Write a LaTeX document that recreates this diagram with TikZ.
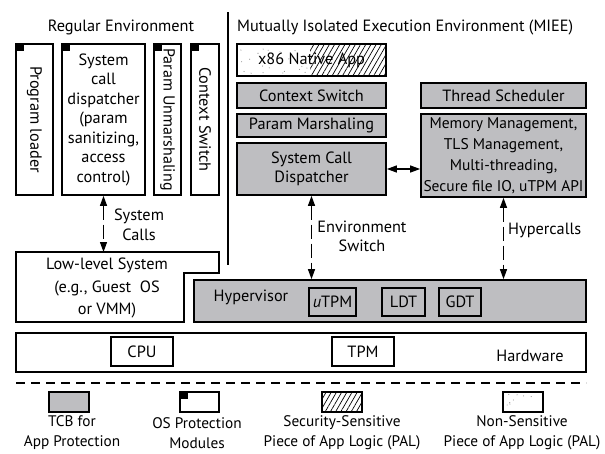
\documentclass[tikz,border=0pt]{standalone}
\usepackage{fontspec}
\setmainfont{PT Sans}
\usepackage{graphicx}
\usetikzlibrary{arrows.meta,patterns.meta}
\definecolor{tcbgray}{RGB}{190,190,193}

\begin{document}
\begin{tikzpicture}[x=1pt,y=-1pt]
	\tikzstyle{every node}=[font=\fontsize{16.3}{19.5}\selectfont, inner sep=0pt]
	\tikzstyle{box}=[draw, line width=1.7pt, align=center]
	\tikzstyle{tcb}=[box, fill=tcbgray]
	\tikzstyle{osmod}=[box, fill=white]
	\tikzstyle{hatched}=[pattern={Lines[angle=60,distance=4.5pt,line width=0.7pt]}]
	\tikzstyle{speck}=[fill=black!45]
	\tikzstyle{legtext}=[align=center, font=\fontsize{15.3}{20}\selectfont]
	\tikzstyle{link}=[line width=1.2pt, {Triangle[width=7pt,length=10pt]}-{Triangle[width=7pt,length=10pt]}]
	\tikzstyle{switch}=[link, dash pattern=on 14pt off 5pt]
	\useasboundingbox (0,0) rectangle (605,453);
	\pgfmathsetseed{7}

	\node (regtitle) at (121,27) {Regular Environment};
	\node[anchor=west] (mieetitle) at (237,27) {Mutually Isolated Execution Environment (MIEE)};
	\draw[line width=2pt] (228,12) -- (228,265);

	\node[osmod, minimum width=37, minimum height=151] (ploader) at (34.5,119.5) {\rotatebox{-90}{Program loader}};
	\node[osmod, minimum width=83, minimum height=151] (sysdisp) at (103.5,119.5) {System\\call\\dispatcher\\(param\\sanitizing,\\access\\control)};
	\node[osmod, minimum width=27, minimum height=151] (unmarsh) at (167.5,119.5) {\rotatebox{-90}{\fontsize{16}{19}\selectfont Param Unmarshaling}};
	\node[osmod, minimum width=28, minimum height=151] (ctxsw) at (205,119.5) {\rotatebox{-90}{Context Switch}};

	\foreach \i in {1,...,22}
		\fill[speck] ({239+69*rnd},{46+28*rnd}) circle (0.55);
	\fill[hatched] (310,44) rectangle (386,76);
	\node[box, minimum width=149, minimum height=32] (app) at (311.5,60) {x86 Native App};
	\node[tcb, minimum width=149, minimum height=25] (ctx) at (311.5,95.5) {Context Switch};
	\node[tcb, minimum width=165, minimum height=25] (sched) at (503.5,95.5) {Thread Scheduler};
	\node[tcb, minimum width=149, minimum height=23] (marsh) at (311.5,125.5) {Param Marshaling};
	\node[tcb, minimum width=149, minimum height=52] (disp) at (311.5,169) {System Call\\Dispatcher};
	\node[tcb, minimum width=165, minimum height=83, font=\fontsize{15.5}{21}\selectfont] (mgmt) at (503.5,155.5) {Memory Management,\\TLS Management,\\Multi-threading,\\Secure file IO, uTPM API};
	\draw[link] (disp.east) -- (mgmt.west |- disp.east);

	\draw[line width=1.7pt] (16,252) -- (219,252) -- (219,273) -- (184,273) -- (184,322) -- (16,322) -- cycle;
	\node[align=center, font=\fontsize{16.3}{22.5}\selectfont] (lowlevel) at (107,288) {Low-level System\\(e.g., Guest~ OS\\or VMM)};
	\coordinate (lltop) at (106,252);
	\draw[switch] (sysdisp.south) -- (sysdisp.south |- lltop);
	\node[align=center] (syscalls) at (139,225) {System\\Calls};

	\node[tcb, minimum width=392, minimum height=42] (hyp) at (390,301) {};
	\node (hyplabel) at (251,297) {Hypervisor};
	\node[box, minimum width=47, minimum height=28] (utpm) at (332.5,302) {\textit{u}TPM};
	\node[box, minimum width=43, minimum height=28] (ldt) at (403.5,302) {LDT};
	\node[box, minimum width=42, minimum height=28] (gdt) at (460,302) {GDT};
	\draw[switch] (disp.south) -- (disp.south |- hyp.north);
	\node[align=center] (envsw) at (362,236.5) {Environment\\Switch};
	\draw[switch] (mgmt.south) -- (mgmt.south |- hyp.north);
	\node[anchor=west] (hcalls) at (508,230) {Hypercalls};

	\node[box, minimum width=570, minimum height=39] (hw) at (301,352.5) {};
	\node[box, minimum width=62, minimum height=29] (cpu) at (142,351.5) {CPU};
	\node[box, minimum width=62, minimum height=29] (tpm) at (363,351.5) {TPM};
	\node (hwlabel) at (530,356) {Hardware};

	\draw[line width=1.2pt, dash pattern=on 9pt off 6pt] (16,383) -- (586,383);

	\node[tcb, minimum width=40, minimum height=20] (legtcb) at (69,402) {};
	\node[osmod, minimum width=39, minimum height=20] (legos) at (199.5,402) {};
	\node[box, hatched, minimum width=40, minimum height=20] (legpal) at (342,402) {};
	\foreach \i in {1,...,8}
		\fill[speck] ({505+36*rnd},{394+16*rnd}) circle (0.55);
	\node[box, minimum width=40, minimum height=20] (legnon) at (523,402) {};
	\foreach \m in {ploader,sysdisp,unmarsh,ctxsw,legos}
		\fill ([shift={(0.8,0.8)}]\m.north west) rectangle ++(8,7);
	\node[legtext] (txtcb) at (72,433) {TCB for\\App Protection};
	\node[legtext] (txos) at (197,433) {OS Protection\\Modules};
	\node[legtext] (txpal) at (342,433) {Security-Sensitive\\Piece of App Logic (PAL)};
	\node[legtext] (txnon) at (522,433) {Non-Sensitive\\Piece of App Logic (PAL)};
\end{tikzpicture}
\end{document}
